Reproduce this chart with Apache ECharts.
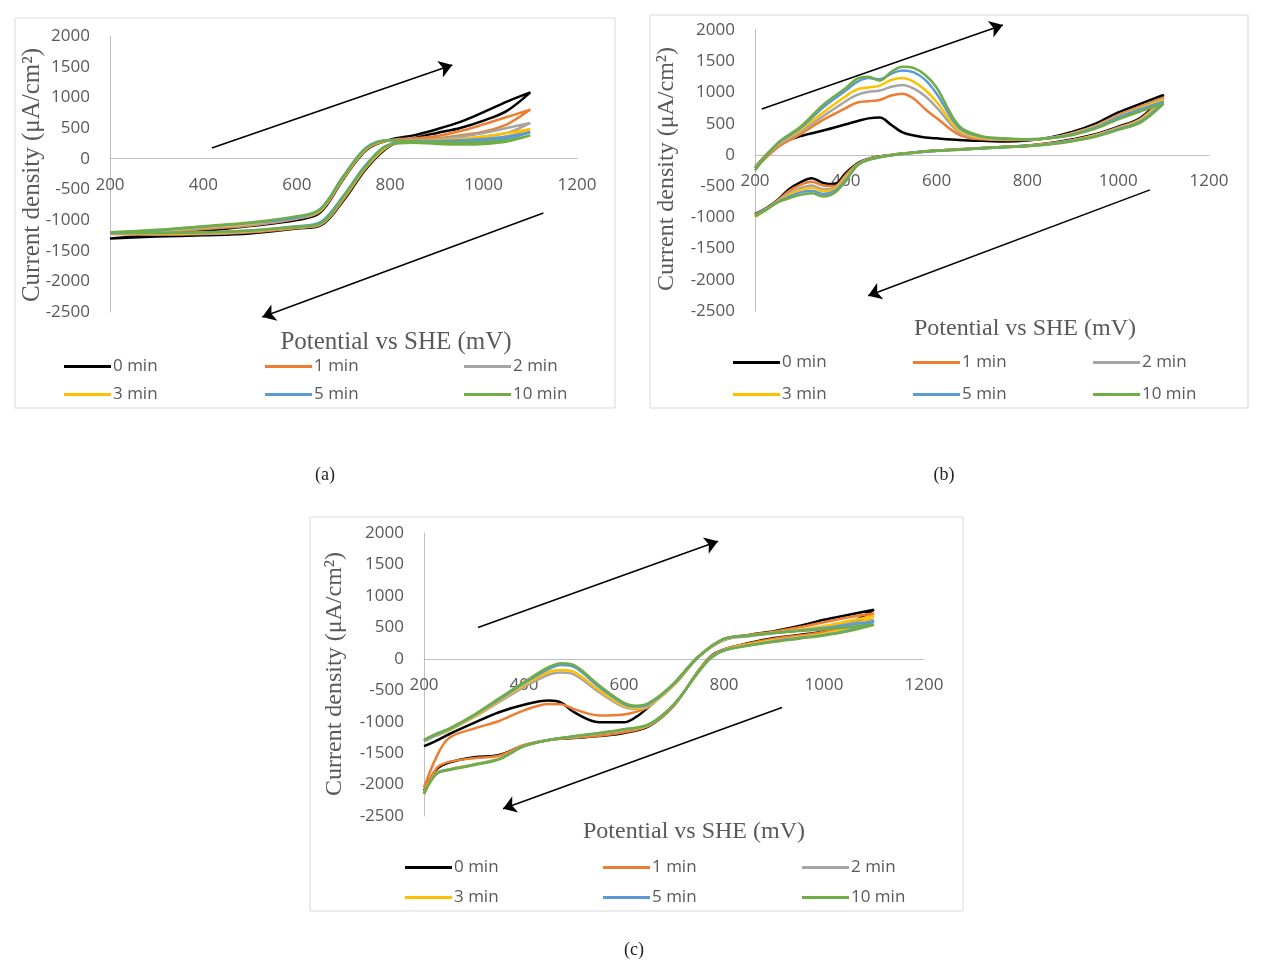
<!DOCTYPE html>
<html>
<head>
<meta charset="utf-8">
<title>Cyclic voltammograms</title>
<script src="https://cdn.jsdelivr.net/npm/echarts@6/dist/echarts.min.js"></script>
<style>
  html, body { margin: 0; padding: 0; background: #fff; }
  #chart { width: 1263px; height: 975px; }
</style>
</head>
<body>
<div id="chart"></div>
<script>
// legend / series
const seriesNames = ['0 min', '1 min', '2 min', '3 min', '5 min', '10 min'];
const seriesColors = ['#000000', '#ED7D31', '#A5A5A5', '#FFC000', '#5B9BD5', '#70AD47'];

// axes (same for the 3 panels)
const xMin = 200, xMax = 1200, xStep = 200;
const yMin = -2500, yMax = 2000, yStep = 500;

// ---- panel (a) ----
const aPotFwd = [200, 300, 400, 500, 600, 650, 700, 750, 800, 850, 900, 950, 1000, 1050, 1100];
const aPotRev = [1100, 1050, 1000, 950, 900, 850, 800, 750, 700, 650, 600, 500, 400, 300, 200];
const aFwd = [
  [-1300, -1270, -1250, -1220, -1140, -1090, -680, -150, 210, 330, 420, 500, 620, 780, 1080],
  [-1230, -1240, -1230, -1200, -1130, -1080, -660, -130, 220, 300, 330, 380, 440, 560, 800],
  [-1220, -1230, -1220, -1190, -1120, -1070, -640, -120, 230, 290, 300, 320, 360, 420, 580],
  [-1210, -1220, -1210, -1180, -1110, -1060, -630, -110, 230, 280, 290, 300, 320, 360, 480],
  [-1210, -1210, -1200, -1170, -1100, -1040, -600, -80, 240, 280, 280, 290, 300, 330, 430],
  [-1200, -1210, -1200, -1170, -1110, -1060, -620, -100, 230, 260, 240, 230, 240, 280, 380]
];
const aRev = [
  [1080, 930, 760, 600, 480, 380, 310, 150, -330, -880, -1000, -1100, -1180, -1240, -1300],
  [800, 680, 560, 450, 370, 330, 300, 160, -320, -860, -980, -1090, -1150, -1200, -1230],
  [580, 500, 420, 360, 320, 300, 300, 165, -310, -850, -970, -1080, -1130, -1190, -1220],
  [480, 420, 360, 320, 300, 290, 300, 170, -300, -840, -950, -1060, -1120, -1180, -1210],
  [430, 360, 320, 300, 290, 290, 305, 190, -280, -820, -960, -1050, -1110, -1170, -1210],
  [380, 300, 270, 260, 270, 280, 300, 180, -290, -830, -940, -1040, -1100, -1160, -1200]
];
const aArrows = [[[418, 175], [933, 1528]], [[1128, -886], [526, -2582]]];

// ---- panel (b) ----
const bPotFwd = [200, 250, 300, 350, 400, 425, 450, 475, 500, 525, 550, 575, 600, 650, 700, 750, 800, 850, 900, 950, 1000, 1050, 1100];
const bPotRev = [1100, 1050, 1000, 950, 900, 850, 800, 750, 700, 650, 600, 550, 500, 450, 425, 400, 375, 350, 325, 300, 275, 250, 225, 200];
const bFwd = [
  [-200, 160, 300, 390, 490, 540, 585, 600, 480, 360, 310, 280, 265, 240, 225, 215, 230, 280, 370, 500, 680, 820, 960],
  [-220, 120, 330, 560, 750, 840, 860, 880, 950, 980, 900, 730, 590, 320, 250, 240, 240, 270, 350, 470, 640, 780, 920],
  [-200, 150, 370, 620, 860, 960, 1010, 1030, 1090, 1120, 1060, 940, 760, 360, 265, 245, 245, 270, 340, 460, 620, 760, 900],
  [-200, 170, 400, 680, 940, 1050, 1080, 1110, 1200, 1230, 1170, 1040, 850, 390, 275, 250, 245, 270, 340, 450, 610, 750, 880],
  [-220, 180, 430, 760, 1030, 1170, 1230, 1210, 1300, 1350, 1320, 1200, 980, 430, 290, 260, 250, 270, 330, 440, 600, 730, 850],
  [-250, 190, 450, 800, 1070, 1220, 1250, 1190, 1330, 1410, 1390, 1280, 1080, 460, 300, 265, 250, 265, 320, 420, 570, 700, 820]
];
const bRev = [
  [960, 600, 450, 330, 250, 190, 150, 130, 110, 90, 70, 40, 0, -60, -140, -290, -470, -450, -375, -440, -550, -720, -850, -950],
  [920, 580, 440, 320, 240, 185, 148, 128, 108, 88, 68, 38, -2, -65, -150, -320, -500, -490, -430, -480, -580, -730, -860, -960],
  [900, 570, 430, 315, 235, 180, 145, 126, 106, 86, 66, 36, -4, -70, -160, -350, -530, -550, -490, -530, -620, -740, -865, -965],
  [880, 560, 420, 310, 230, 178, 143, 125, 105, 85, 65, 35, -5, -75, -165, -370, -550, -580, -530, -560, -640, -750, -870, -1000],
  [850, 540, 410, 300, 225, 175, 141, 124, 104, 84, 64, 34, -5, -78, -170, -400, -580, -625, -580, -600, -670, -755, -875, -975],
  [820, 520, 400, 290, 220, 170, 140, 125, 105, 85, 65, 35, -5, -80, -170, -420, -610, -665, -615, -640, -695, -760, -880, -980]
];
const bArrows = [[[215, 736], [746, 2080]], [[1070, -560], [449, -2256]]];

// ---- panel (c) ----
const cPotFwd = [200, 225, 250, 300, 350, 400, 450, 475, 500, 550, 600, 625, 650, 700, 750, 800, 850, 900, 950, 1000, 1050, 1100];
const cPotRev = [1100, 1050, 1000, 950, 900, 850, 800, 775, 750, 700, 650, 600, 550, 500, 450, 400, 350, 300, 250, 225, 200];
const cFwd = [
  [-1390, -1300, -1200, -1020, -850, -730, -665, -700, -850, -1010, -1010, -920, -760, -390, 40, 300, 380, 440, 520, 620, 700, 780],
  [-2050, -1560, -1260, -1110, -990, -820, -720, -725, -800, -900, -885, -840, -760, -400, 40, 310, 380, 430, 500, 580, 660, 720],
  [-1310, -1220, -1140, -930, -690, -450, -250, -220, -250, -530, -770, -800, -750, -420, 30, 300, 360, 410, 450, 500, 570, 620],
  [-1300, -1210, -1130, -920, -670, -420, -210, -180, -210, -500, -750, -790, -740, -410, 35, 305, 365, 415, 460, 520, 600, 680],
  [-1300, -1200, -1120, -900, -650, -390, -160, -100, -130, -450, -720, -760, -720, -400, 40, 315, 365, 410, 450, 490, 540, 590],
  [-1290, -1190, -1110, -890, -630, -370, -130, -70, -100, -420, -700, -745, -700, -390, 45, 320, 370, 410, 440, 470, 500, 540]
];
const cRev = [
  [780, 560, 440, 380, 330, 250, 150, 50, -180, -740, -1070, -1180, -1230, -1260, -1290, -1380, -1530, -1565, -1650, -1760, -2100],
  [720, 540, 430, 370, 320, 245, 150, 45, -180, -740, -1065, -1170, -1225, -1255, -1290, -1370, -1540, -1580, -1640, -1740, -2150],
  [620, 470, 390, 340, 290, 225, 140, 30, -190, -730, -1050, -1130, -1190, -1240, -1290, -1390, -1590, -1680, -1760, -1820, -2130],
  [680, 500, 400, 345, 295, 230, 140, 30, -190, -730, -1050, -1130, -1190, -1240, -1290, -1390, -1590, -1680, -1760, -1820, -2120],
  [590, 450, 380, 330, 280, 215, 135, 25, -195, -725, -1045, -1125, -1185, -1235, -1290, -1390, -1595, -1685, -1765, -1825, -2140],
  [540, 440, 370, 320, 270, 210, 130, 20, -200, -720, -1040, -1120, -1180, -1230, -1290, -1390, -1600, -1690, -1770, -1830, -2150]
];
const cArrows = [[[308, 498], [788, 1868]], [[916, -775], [358, -2384]]];

// ---- layout of the three panels (pixels) ----
const panels = [
  { pf: aPotFwd, pr: aPotRev, fwd: aFwd, rev: aRev, arrows: aArrows,
    grid: { left: 110, top: 36, width: 467, height: 276 },
    box: [15, 18, 600, 390], yTitle: [32, 175, 25], xTitle: [396, 342, 25],
    legX: [59, 260, 459], legY: [365, 393], caption: ['(a)', 325, 475] },
  { pf: bPotFwd, pr: bPotRev, fwd: bFwd, rev: bRev, arrows: bArrows,
    grid: { left: 755, top: 30, width: 454, height: 281 },
    box: [650, 15, 598, 393], yTitle: [667, 169, 24], xTitle: [1025, 329, 24],
    legX: [728, 908, 1088], legY: [361, 393], caption: ['(b)', 944, 475] },
  { pf: cPotFwd, pr: cPotRev, fwd: cFwd, rev: cRev, arrows: cArrows,
    grid: { left: 424, top: 533, width: 500, height: 283 },
    box: [310, 517, 653, 394], yTitle: [335, 674, 24], xTitle: [694, 832, 24],
    legX: [400, 598, 797], legY: [866, 896], caption: ['(c)', 634, 950] }
];

const labelFont = '"Open Sans", "Liberation Sans", sans-serif';
const titleFont = '"Liberation Serif", "DejaVu Serif", serif';
const axisGray = '#bfbfbf';
const textGray = '#595959';
const plain = v => String(v);

let grids = [], xAxes = [], yAxes = [], series = [], legends = [], graphics = [];

panels.forEach((p, gi) => {
  grids.push(Object.assign({ containLabel: false }, p.grid));
  // x axis sits on y = 0 (Excel style): shift the bottom axis up to the zero line
  const zeroOffset = -p.grid.height * (0 - yMin) / (yMax - yMin);
  xAxes.push({
    gridIndex: gi, type: 'value', min: xMin, max: xMax, interval: xStep,
    position: 'bottom', offset: zeroOffset,
    axisLine: { onZero: false, lineStyle: { color: axisGray, width: 1 } },
    axisTick: { show: false }, splitLine: { show: false },
    axisLabel: { color: textGray, fontSize: 17, fontFamily: labelFont, margin: 18, formatter: plain }
  });
  yAxes.push({
    gridIndex: gi, type: 'value', min: yMin, max: yMax, interval: yStep,
    axisLine: { show: true, onZero: false, lineStyle: { color: axisGray, width: 1 } },
    axisTick: { show: false }, splitLine: { show: false },
    axisLabel: { color: textGray, fontSize: 17, fontFamily: labelFont, margin: 20, formatter: plain }
  });

  seriesNames.forEach((name, si) => {
    let data = p.pf.map((e, i) => [e, p.fwd[si][i]]);
    // reverse scan, skip the shared turning point
    p.pr.forEach((e, i) => { if (i > 0) data.push([e, p.rev[si][i]]); });
    series.push({
      type: 'line', name: name, xAxisIndex: gi, yAxisIndex: gi,
      data: data, smooth: 0.35, symbol: 'none', silent: true,
      lineStyle: { color: seriesColors[si], width: 2.5 },
      itemStyle: { color: seriesColors[si] },
      z: 2 + si
    });
  });

  // scan direction arrows
  series.push({
    type: 'lines', coordinateSystem: 'cartesian2d', xAxisIndex: gi, yAxisIndex: gi,
    clip: false, silent: true, symbol: ['none', 'arrow'], symbolSize: [1, 13],
    lineStyle: { color: '#000', width: 1.5, opacity: 1, curveness: 0 },
    data: p.arrows.map(a => ({ coords: a })), z: 20
  });

  // legends: 3 columns x 2 rows
  seriesNames.forEach((name, si) => {
    legends.push({
      data: [name], left: p.legX[si % 3], top: p.legY[Math.floor(si / 3)] - 12,
      icon: 'rect', itemWidth: 47, itemHeight: 3, selectedMode: false,
      textStyle: { color: textGray, fontSize: 17, fontFamily: labelFont, padding: [0, 0, 0, -3] }
    });
  });

  graphics.push({
    type: 'rect', shape: { x: p.box[0], y: p.box[1], width: p.box[2], height: p.box[3] },
    style: { fill: 'none', stroke: '#d9d9d9', lineWidth: 1 }, silent: true
  });
  graphics.push({
    type: 'text', x: p.yTitle[0], y: p.yTitle[1], rotation: Math.PI / 2,
    style: { text: 'Current density (μA/cm²)', fill: textGray, font: p.yTitle[2] + 'px ' + titleFont,
      align: 'center', verticalAlign: 'middle' }, silent: true
  });
  graphics.push({
    type: 'text', x: p.xTitle[0], y: p.xTitle[1],
    style: { text: 'Potential vs SHE (mV)', fill: textGray, font: p.xTitle[2] + 'px ' + titleFont,
      align: 'center', verticalAlign: 'middle' }, silent: true
  });
  graphics.push({
    type: 'text', x: p.caption[1], y: p.caption[2],
    style: { text: p.caption[0], fill: '#222', font: '18px ' + titleFont,
      align: 'center', verticalAlign: 'middle' }, silent: true
  });
});

const myChart = echarts.init(document.getElementById('chart'));
myChart.setOption({
  animation: false,
  backgroundColor: '#fff',
  tooltip: { show: false },
  grid: grids,
  xAxis: xAxes,
  yAxis: yAxes,
  legend: legends,
  graphic: graphics,
  series: series
});
</script>
</body>
</html>
